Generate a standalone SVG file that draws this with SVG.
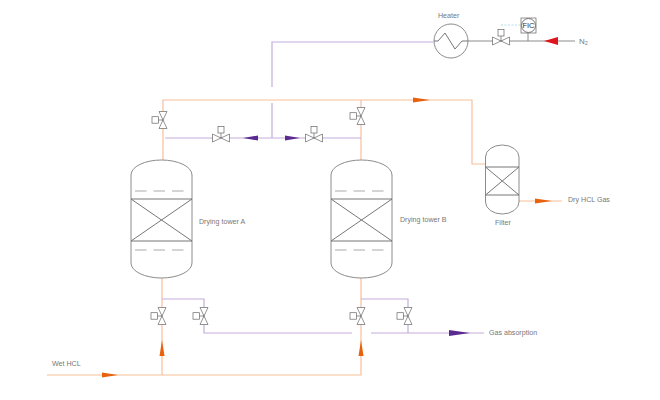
<svg xmlns="http://www.w3.org/2000/svg" width="660" height="400" viewBox="0 0 660 400">
<style>
.o{fill:none;stroke:#f7bf98;stroke-width:1.2}
.p{fill:none;stroke:#c4aedb;stroke-width:1.2}
.g{fill:none;stroke:#8c8c8c;stroke-width:1}
.v{fill:#fff;stroke:#666;stroke-width:.7}
.d{fill:none;stroke:#aaa;stroke-width:1;stroke-dasharray:11.500 7}
.x{fill:none;stroke:#777;stroke-width:1}
.oa{fill:#e8620e}
.pa{fill:#5a2a8e}
text{font-family:"Liberation Sans",Arial,sans-serif;font-size:7.100px;fill:#777}
</style>
<defs>
<g id="vv"><path class="v" d="M-4-8.500H4L-4 8.500H4Z"/><rect class="v" x="-11" y="-3.300" width="6.500" height="6.500"/><path class="v" d="M-4.500 0H0"/></g>
<g id="vh"><path class="v" d="M-8.500-4V4L8.500-4V4Z"/><rect class="v" x="-3" y="-11.500" width="6" height="6.500"/><path class="v" d="M0-5V0"/></g>
</defs>
<g id="connectors">
<path class="o" d="M163 160V100H472V164H485"/>
<path class="o" d="M361 160V100"/>
<path class="o" d="M162 278V375M47 375H361V278"/>
<path class="o" d="M519 201H562"/>
<path class="p" d="M272 87V42H433"/>
<path class="p" d="M272 103V138M165 138H361"/>
<path class="p" d="M162 299H204V333H352M371 333H484"/>
<path class="p" d="M361 299H408V333"/>
<path class="g" d="M468 41H575M528 33V41"/>
<path d="M501 25H521" fill="none" stroke="#9fd3e6" stroke-width=".8" stroke-dasharray="2 1.500"/>
<path class="oa" d="M413 97.500L430 100L413 102.500Z"/>
<path class="oa" d="M102 372.500L118 375L102 377.500Z"/>
<path class="oa" d="M159.500 356L162 340L164.500 356Z"/>
<path class="oa" d="M358.500 356L361 340L363.500 356Z"/>
<path class="oa" d="M535 198.500L552 201L535 203.500Z"/>
<path class="pa" d="M258 135.500L243 138L258 140.500Z"/>
<path class="pa" d="M285 135.500L300 138L285 140.500Z"/>
<path class="pa" d="M449 330L470 333L449 336Z"/>
<path d="M558 37L544 41L558 45Z" fill="#e0141c"/>
</g>
<g id="tower-a">
<path class="g" d="M131 263V175A30.500 15 0 0 1 192 175V263A30.500 15 0 0 1 131 263Z"/>
<path class="x" d="M131 199H192M131 241H192M131 199L192 241M192 199L131 241"/>
<path class="d" d="M135 191H184M135 250H184"/>
<text x="199" y="224">Drying tower A</text>
</g>
<g id="tower-b">
<path class="g" d="M331 263V175A30.500 15 0 0 1 392 175V263A30.500 15 0 0 1 331 263Z"/>
<path class="x" d="M331 199H392M331 241H392M331 199L392 241M392 199L331 241"/>
<path class="d" d="M335 191H384M335 250H384"/>
<text x="400" y="222">Drying tower B</text>
</g>
<g id="filter">
<path class="g" d="M485.500 202V157A16.750 12 0 0 1 519 157V202A16.750 12 0 0 1 485.500 202Z"/>
<path class="x" d="M485.500 167H519M485.500 195H519M485.500 167L519 195M519 167L485.500 195"/>
<text x="495" y="225">Filter</text>
</g>
<g id="heater">
<circle class="g" cx="451" cy="41" r="17" style="fill:#fff"/>
<path class="x" d="M434 41H438L445 33L455 49L462 41H468"/>
<text x="438" y="18">Heater</text>
</g>
<g id="fic">
<rect class="v" x="521" y="18" width="15" height="15"/>
<circle cx="528.500" cy="25.500" r="7" fill="#fff" stroke="#555" stroke-width=".8"/>
<text x="528.500" y="28.200" text-anchor="middle" style="font-size:7.500px;fill:#333">FIC</text>
</g>
<use id="valve-heater" href="#vh" x="501" y="41"/>
<use id="valve-a-top" href="#vv" x="163" y="120"/>
<use id="valve-b-top" href="#vv" x="361" y="116"/>
<use id="valve-a-h" href="#vh" x="221" y="138"/>
<use id="valve-b-h" href="#vh" x="314" y="138"/>
<use id="valve-a-in" href="#vv" x="162" y="316"/>
<use id="valve-a-out" href="#vv" x="204" y="316"/>
<use id="valve-b-in" href="#vv" x="361" y="316"/>
<use id="valve-b-out" href="#vv" x="408" y="316"/>
<g id="labels">
<text x="579" y="44" style="font-size:8px">N₂</text>
<text x="52" y="366">Wet HCL</text>
<text x="489" y="335">Gas absorption</text>
<text x="568" y="202">Dry HCL Gas</text>
</g>
</svg>
